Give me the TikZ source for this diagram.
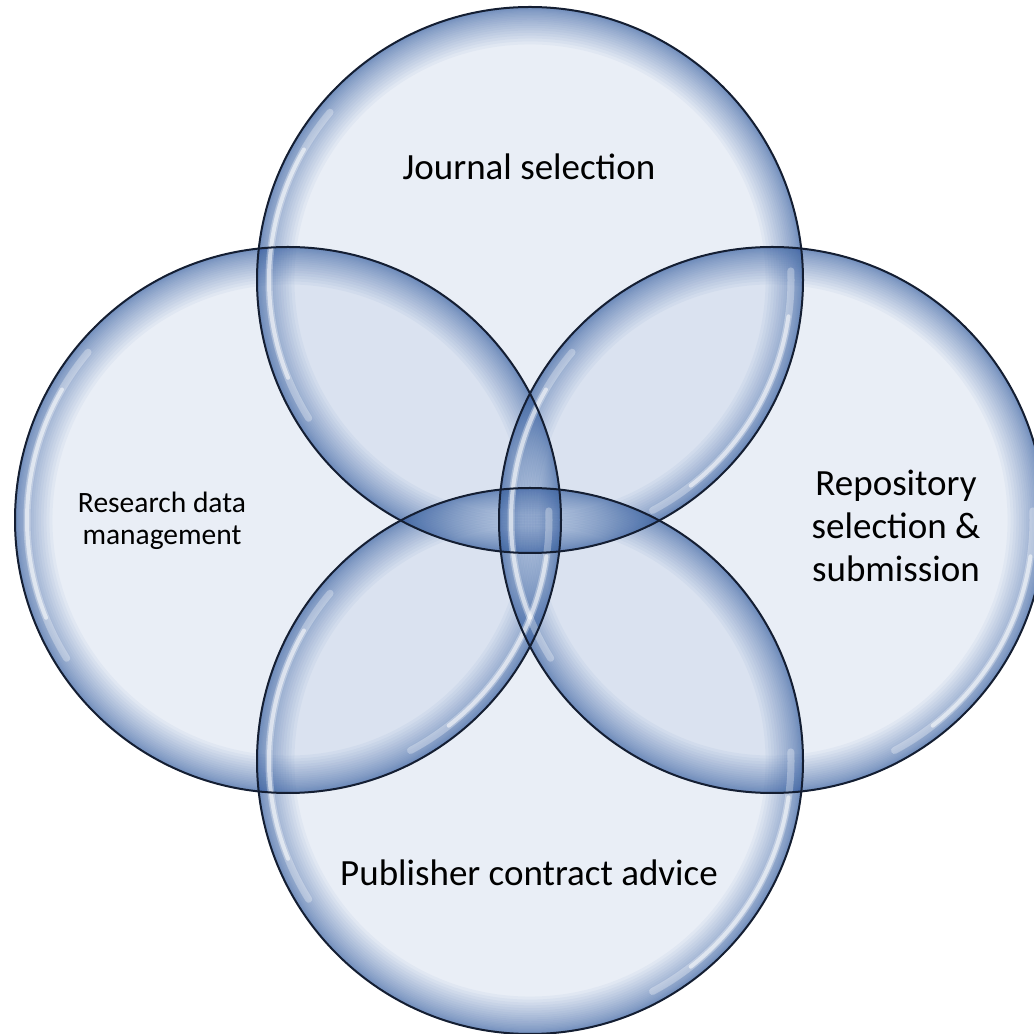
\documentclass[tikz,border=0pt]{standalone}
\usepackage{fontspec}
\setmainfont{Carlito}

\definecolor{bubblefill}{RGB}{186,202,227}
\definecolor{rimblue}{RGB}{60,100,165}
\definecolor{edgenavy}{RGB}{20,30,50}

\begin{document}
\begin{tikzpicture}[x=1pt,y=1pt,
    bubble/.style={fill=bubblefill, fill opacity=0.32},
    rim/.style={draw=rimblue, opacity=0.05},
    gloss/.style={white, line cap=round},
    outline/.style={draw=edgenavy, line width=2pt},
    venntext/.style={font=\fontsize{37}{43}\selectfont, align=center}]

  \useasboundingbox (0,0) rectangle (1034,1034);
  \clip (0,0) rectangle (1034,1034);

  \coordinate (journal) at (530,754);
  \coordinate (data) at (288,514);
  \coordinate (repo) at (772,514);
  \coordinate (contract) at (530,273);

  % bubbles
  \foreach \c in {journal,data,repo,contract}
    \fill[bubble] (\c) circle[radius=273pt];
  \foreach \c in {journal,data,repo,contract} {
    \begin{scope}
      \clip (\c) circle[radius=273pt];
      \foreach \k in {1,...,24}
        \draw[rim, line width=0.13*\k*\k pt] (\c) circle[radius=273pt];
    \end{scope}
  }
  % highlights
  \foreach \c in {journal,data,repo,contract} {
    \draw[gloss, line width=7pt, opacity=0.3] (\c) ++(140:261pt) arc[start angle=140, end angle=212, radius=261pt];
    \draw[gloss, line width=4pt, opacity=0.55] (\c) ++(150:261pt) arc[start angle=150, end angle=202, radius=261pt];
    \draw[gloss, line width=7pt, opacity=0.3] (\c) ++(-62:261pt) arc[start angle=-62, end angle=2, radius=261pt];
    \draw[gloss, line width=4pt, opacity=0.55] (\c) ++(-52:261pt) arc[start angle=-52, end angle=-8, radius=261pt];
  }
  \foreach \c in {journal,data,repo,contract}
    \draw[outline] (\c) circle[radius=273pt];

  % labels
  \node[venntext] (journaltext) at (529,867) {Journal selection};
  \node[venntext, font=\fontsize{29.5}{32}\selectfont] (datatext) at (162,513) {Research data\\management};
  \node[venntext] (repotext) at (896,508) {Repository\\selection \&\\submission};
  \node[venntext] (contracttext) at (529,161) {Publisher contract advice};
\end{tikzpicture}
\end{document}
